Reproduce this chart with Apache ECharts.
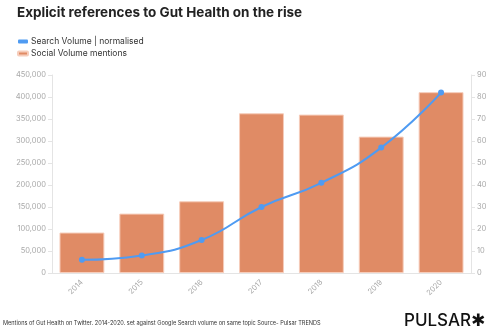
<!DOCTYPE html>
<html>
<head>
<meta charset="utf-8">
<script src="https://cdn.jsdelivr.net/npm/echarts@6/dist/echarts.min.js"></script>
<style>
  html, body { margin: 0; padding: 0; background: #fff; }
  #chart { width: 500px; height: 330px; }
</style>
</head>
<body>
<div id="chart"></div>
<script>
// Years on the category axis
const years = ['2014', '2015', '2016', '2017', '2018', '2019', '2020'];
// Twitter mentions of gut health per year
const socialVolume = [92000, 135000, 163000, 363000, 360000, 310000, 411000];
// Google search interest, normalised 0-100
const searchVolume = [6, 8, 15, 30, 41, 57, 82];

const chart = echarts.init(document.getElementById('chart'), null, { renderer: 'canvas' });
const font = 'Inter, "Noto Sans", sans-serif';
const axisGrey = '#e4e4e4';
const labelGrey = '#a8a8a8';

chart.setOption({
  animation: false,
  textStyle: { fontFamily: font },
  title: {
    text: 'Explicit references to Gut Health on the rise',
    left: 12, top: 1,
    textStyle: { fontSize: 13.5, fontWeight: 'bold', color: '#222', fontFamily: font }
  },
  legend: {
    orient: 'vertical',
    left: 12, top: 32,
    itemWidth: 10, itemHeight: 4, itemGap: 3,
    icon: 'roundRect',
    textStyle: { fontSize: 8.5, color: '#333', padding: [0, 0, 0, -2] },
    data: ['Search Volume | normalised', 'Social Volume mentions']
  },
  grid: { left: 52, right: 29, top: 75, bottom: 57 },
  xAxis: {
    type: 'category',
    data: years,
    axisLine: { lineStyle: { color: axisGrey } },
    axisTick: { alignWithLabel: true, length: 4, lineStyle: { color: axisGrey } },
    axisLabel: { rotate: 45, fontSize: 7.5, color: labelGrey, margin: 8 }
  },
  yAxis: [
    {
      type: 'value', min: 0, max: 450000, interval: 50000,
      axisLine: { show: true, lineStyle: { color: axisGrey } },
      axisTick: { show: true, length: 4, lineStyle: { color: axisGrey } },
      splitLine: { show: false },
      axisLabel: {
        fontSize: 7.5, color: labelGrey, margin: 6,
        formatter: v => v.toLocaleString('en-US')
      }
    },
    {
      type: 'value', min: 0, max: 90, interval: 10,
      axisLine: { show: true, lineStyle: { color: axisGrey } },
      axisTick: { show: true, length: 4, lineStyle: { color: axisGrey } },
      splitLine: { show: false },
      axisLabel: { fontSize: 7.5, color: labelGrey, margin: 6 }
    }
  ],
  series: [
    {
      name: 'Social Volume mentions',
      type: 'bar',
      yAxisIndex: 0,
      data: socialVolume,
      barWidth: '75%',
      itemStyle: { color: '#E08B65', borderColor: '#F6CDBB', borderWidth: 1 },
      z: 1
    },
    {
      name: 'Search Volume | normalised',
      type: 'line',
      yAxisIndex: 1,
      data: searchVolume,
      smooth: true,
      symbol: 'circle',
      symbolSize: 6,
      lineStyle: { color: '#4F9BF2', width: 2 },
      itemStyle: { color: '#4F9BF2' },
      z: 3
    }
  ],
  graphic: [
    {
      type: 'text', left: 3, top: 320,
      style: {
        text: 'Mentions of Gut Health on Twitter. 2014-2020. set against Google Search volume on same topic Source- Pulsar TRENDS',
        fontSize: 5.6, fill: '#333', fontFamily: font
      }
    },
    {
      type: 'text', left: 404, top: 312,
      style: {
        text: 'PULSAR\u2731',
        fontSize: 17, fontWeight: 500, fill: '#111',
        fontFamily: 'Inter, "DejaVu Sans", sans-serif'
      }
    }
  ]
});
</script>
</body>
</html>
